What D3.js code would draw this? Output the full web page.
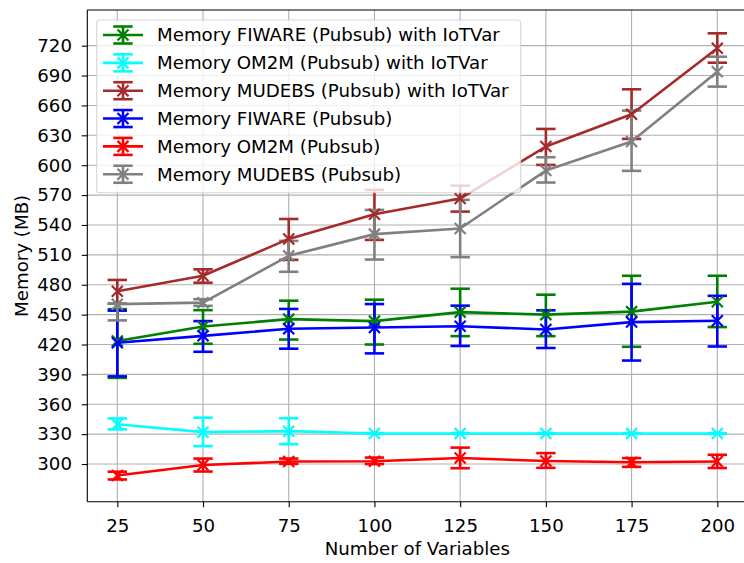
<!DOCTYPE html>
<html>
<head>
<meta charset="utf-8">
<script src="https://cdn.jsdelivr.net/npm/d3@7"></script>
<style>
  html, body { margin: 0; padding: 0; background: #ffffff; overflow: hidden; }
  svg { display: block; font-family: "DejaVu Sans", sans-serif; }
</style>
</head>
<body>
<svg id="chart" width="744" height="563"></svg>
<script>
// ---------- data ----------
const variables = [25, 50, 75, 100, 125, 150, 175, 200];
const yTicks = [300, 330, 360, 390, 420, 450, 480, 510, 540, 570, 600, 630, 660, 690, 720];

const seriesNames = [
  "Memory FIWARE (Pubsub) with IoTVar",
  "Memory OM2M (Pubsub) with IoTVar",
  "Memory MUDEBS (Pubsub) with IoTVar",
  "Memory FIWARE (Pubsub)",
  "Memory OM2M (Pubsub)",
  "Memory MUDEBS (Pubsub)"
];
const seriesColors = ["#008000", "#00ffff", "#a52a2a", "#0000ff", "#ff0000", "#808080"];

const fiwareIoT      = [423.5, 438, 445.5, 443.5, 452.5, 450, 453, 463];
const fiwareIoTHigh  = [455.5, 454.5, 464, 465, 476, 470, 489, 489];
const fiwareIoTLow   = [386.5, 420.7, 425, 420, 428.4, 428.4, 417.7, 437.5];

const om2mIoT        = [340, 332, 333, 330.7, 330.7, 330.7, 330.7, 330.7];
const om2mIoTHigh    = [345.8, 346.5, 346, 331, 331, 331, 331, 331];
const om2mIoTLow     = [334.8, 318, 320, 330.4, 330.4, 330.4, 330.4, 330.4];

const mudebsIoT      = [473.5, 489, 526, 550.8, 566.5, 618.7, 651.2, 717.4];
const mudebsIoTHigh  = [484.8, 495.5, 546, 575.2, 579.5, 636.4, 676.2, 732.4];
const mudebsIoTLow   = [461, 482, 505, 525, 553.4, 600.3, 626.4, 702.9];

const fiware         = [421.8, 428.7, 435.8, 437, 438.4, 435.1, 442.5, 443.8];
const fiwareHigh     = [454, 443.5, 455.7, 460.6, 459, 454.3, 480.9, 468.9];
const fiwareLow      = [388, 412.7, 415.8, 411.1, 418.5, 416.5, 403.9, 418];

const om2m           = [288.5, 299, 302.5, 302.8, 306, 303, 301.8, 302.5];
const om2mHigh       = [292.3, 305.5, 305.5, 306.5, 316.5, 311, 306, 309.3];
const om2mLow        = [284.5, 292.5, 300.2, 300, 295.8, 296.2, 297.2, 296];

const mudebs         = [460.5, 462, 509, 530.8, 536.5, 594.6, 623.7, 693.9];
const mudebsHigh     = [461, 465.5, 524, 555.1, 565.2, 608, 654.8, 708.9];
const mudebsLow      = [444.2, 458.8, 493, 505.3, 507.7, 582.6, 594.3, 678.9];

const means = [fiwareIoT, om2mIoT, mudebsIoT, fiware, om2m, mudebs];
const highs = [fiwareIoTHigh, om2mIoTHigh, mudebsIoTHigh, fiwareHigh, om2mHigh, mudebsHigh];
const lows  = [fiwareIoTLow, om2mIoTLow, mudebsIoTLow, fiwareLow, om2mLow, mudebsLow];

// ---------- layout ----------
const plot = { left: 87.3, right: 747.3, top: 10, bottom: 501.7 };
const x = d3.scaleLinear().domain([16.25, 208.75]).range([plot.left, plot.right]);
const y = d3.scaleLinear().domain([262.2, 755.8]).range([plot.bottom, plot.top]);

const svg = d3.select("#chart");
const FS = 18.2;
const LW = 2.6;
const CAP = 9.7;   // half cap width
const MK = 5.5;    // half marker size

// grid
const grid = svg.append("g");
grid.selectAll("line.gx").data(variables).join("line")
  .attr("x1", d => x(d)).attr("x2", d => x(d))
  .attr("y1", plot.top).attr("y2", plot.bottom)
  .attr("stroke", "#b0b0b0").attr("stroke-width", 1.1);
grid.selectAll("line.gy").data(yTicks).join("line")
  .attr("x1", plot.left).attr("x2", plot.right)
  .attr("y1", d => y(d)).attr("y2", d => y(d))
  .attr("stroke", "#b0b0b0").attr("stroke-width", 1.1);

const series = seriesNames.map((name, i) => ({
  name, color: seriesColors[i],
  pts: variables.map((v, j) => ({ x: v, m: means[i][j], hi: highs[i][j], lo: lows[i][j] }))
}));

// error bars (drawn below data lines, like matplotlib)
const eb = svg.append("g");
series.forEach(s => {
  const g = eb.append("g").attr("stroke", s.color).attr("stroke-width", LW).attr("fill", "none");
  g.selectAll("line.v").data(s.pts).join("line")
    .attr("x1", d => x(d.x)).attr("x2", d => x(d.x))
    .attr("y1", d => y(d.lo)).attr("y2", d => y(d.hi));
  g.selectAll("line.ch").data(s.pts).join("line")
    .attr("x1", d => x(d.x) - CAP).attr("x2", d => x(d.x) + CAP)
    .attr("y1", d => y(d.hi)).attr("y2", d => y(d.hi));
  g.selectAll("line.cl").data(s.pts).join("line")
    .attr("x1", d => x(d.x) - CAP).attr("x2", d => x(d.x) + CAP)
    .attr("y1", d => y(d.lo)).attr("y2", d => y(d.lo));
});

// data lines with x markers
const lineGen = d3.line().x(d => x(d.x)).y(d => y(d.m));
const dl = svg.append("g");
function xMarker(g, cx, cy, color) {
  g.append("path")
    .attr("d", `M${cx - MK},${cy - MK}L${cx + MK},${cy + MK}M${cx - MK},${cy + MK}L${cx + MK},${cy - MK}`)
    .attr("stroke", color).attr("stroke-width", 2.2).attr("fill", "none");
}
series.forEach(s => {
  const g = dl.append("g");
  g.append("path").datum(s.pts).attr("d", lineGen)
    .attr("stroke", s.color).attr("stroke-width", LW).attr("fill", "none")
    .attr("stroke-linejoin", "round").attr("stroke-linecap", "butt");
  s.pts.forEach(d => xMarker(g, x(d.x), y(d.m), s.color));
});

// spines
svg.append("line").attr("x1", plot.left).attr("x2", plot.left).attr("y1", plot.top).attr("y2", plot.bottom)
  .attr("stroke", "#000").attr("stroke-width", 1.1);
svg.append("line").attr("x1", plot.left).attr("x2", plot.right).attr("y1", plot.bottom).attr("y2", plot.bottom)
  .attr("stroke", "#000").attr("stroke-width", 1.1);
svg.append("line").attr("x1", plot.left).attr("x2", plot.right).attr("y1", plot.top).attr("y2", plot.top)
  .attr("stroke", "#000").attr("stroke-width", 1.1);

// axes via d3
const xAxis = d3.axisBottom(x).tickValues(variables).tickSize(5.5).tickPadding(11.5);
const gx = svg.append("g").attr("transform", `translate(0,${plot.bottom})`).call(xAxis);
gx.select(".domain").remove();
gx.selectAll("line").attr("stroke", "#000").attr("stroke-width", 1.1);
gx.selectAll("text").attr("font-size", FS).attr("font-family", "DejaVu Sans").attr("fill", "#000");

const yAxis = d3.axisLeft(y).tickValues(yTicks).tickSize(5.5).tickPadding(9.8);
const gy = svg.append("g").attr("transform", `translate(${plot.left},0)`).call(yAxis);
gy.select(".domain").remove();
gy.selectAll("line").attr("stroke", "#000").attr("stroke-width", 1.1);
gy.selectAll("text").attr("font-size", FS).attr("font-family", "DejaVu Sans").attr("fill", "#000");

// axis labels
svg.append("text").attr("x", (plot.left + plot.right) / 2).attr("y", 555)
  .attr("text-anchor", "middle").attr("font-size", FS).text("Number of Variables");
svg.append("text").attr("transform", `translate(28,${(plot.top + plot.bottom) / 2}) rotate(-90)`)
  .attr("text-anchor", "middle").attr("font-size", FS).text("Memory (MB)");

// legend
const lg = svg.append("g");
lg.append("rect").attr("x", 96.7).attr("y", 20).attr("width", 424).attr("height", 172.7)
  .attr("rx", 3).attr("fill", "#ffffff").attr("fill-opacity", 0.8)
  .attr("stroke", "#cccccc").attr("stroke-opacity", 0.8).attr("stroke-width", 1.1);
series.forEach((s, i) => {
  const cy = 35 + i * 27.85;
  const g = lg.append("g");
  g.append("line").attr("x1", 103).attr("x2", 143).attr("y1", cy).attr("y2", cy)
    .attr("stroke", s.color).attr("stroke-width", LW);
  g.append("line").attr("x1", 123).attr("x2", 123).attr("y1", cy - 8.5).attr("y2", cy + 8.5)
    .attr("stroke", s.color).attr("stroke-width", LW);
  [cy - 8.5, cy + 8.5].forEach(yy => g.append("line").attr("x1", 123 - CAP).attr("x2", 123 + CAP)
    .attr("y1", yy).attr("y2", yy).attr("stroke", s.color).attr("stroke-width", LW));
  xMarker(g, 123, cy, s.color);
  g.append("text").attr("x", 157).attr("y", cy + 6.4).attr("font-size", FS).attr("fill", "#000").text(s.name);
});
</script>
</body>
</html>
